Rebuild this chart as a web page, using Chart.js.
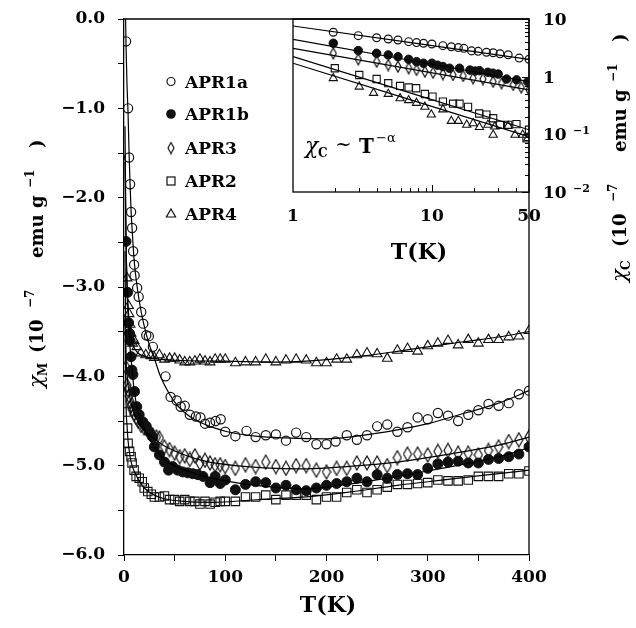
<!DOCTYPE html>
<html>
<head>
<meta charset="utf-8">
<script src="https://cdn.jsdelivr.net/npm/chart.js@4.4.1/dist/chart.umd.min.js"></script>
<style>
  html, body { margin: 0; padding: 0; background: #fff; }
  #wrap { position: relative; width: 636px; height: 628px; }
  #wrap canvas { position: absolute; left: 0; top: 0; }
</style>
</head>
<body>
<div id="wrap">
  <canvas id="mainChart" width="636" height="628"></canvas>
  <canvas id="insetChart" width="636" height="628"></canvas>
</div>
<script>
// ---- main panel: chi_M (1e-7 emu/g) against T (K) ----
const seriesNames = ['APR1a', 'APR1b', 'APR3', 'APR2', 'APR4'];

const tempAPR1a = [2, 4, 5, 6, 7, 8, 9, 10, 10.5, 13,
  14.5, 17, 19, 22, 24.5, 28.5, 41, 46, 52, 56,
  60, 65, 71, 75.5, 80, 85, 90.5, 95.5, 100, 110,
  121, 130, 140, 150, 160, 170, 180, 190, 200, 209,
  220, 230, 240, 250, 260, 270, 280, 290, 300, 310,
  320, 330, 340, 350, 360, 370, 380, 390, 400];
const chiAPR1a = [-0.25, -1.0, -1.55, -1.85, -2.16, -2.34, -2.6, -2.75, -2.87, -3.01,
  -3.11, -3.28, -3.41, -3.54, -3.55, -3.67, -4.0, -4.23, -4.27, -4.34,
  -4.33, -4.43, -4.45, -4.46, -4.53, -4.52, -4.5, -4.48, -4.62, -4.67,
  -4.61, -4.68, -4.66, -4.65, -4.72, -4.63, -4.68, -4.76, -4.76, -4.73,
  -4.66, -4.71, -4.66, -4.56, -4.54, -4.62, -4.57, -4.46, -4.48, -4.41,
  -4.44, -4.5, -4.43, -4.38, -4.31, -4.33, -4.3, -4.2, -4.16];

const tempAPR1b = [2, 3.5, 4.5, 5.5, 6, 7, 7.8, 8.8, 10.4, 12.6,
  15, 18.6, 22, 25, 28.5, 30, 35, 40, 44, 48,
  53, 58, 63, 68, 73, 78, 85, 90, 95, 100,
  110, 120, 130, 140, 150, 160, 170, 180, 190, 200,
  210, 220, 230, 240, 250, 260, 270, 280, 290, 300,
  310, 320, 330, 340, 350, 360, 370, 380, 390, 400];
const chiAPR1b = [-2.49, -3.06, -3.4, -3.52, -3.6, -3.78, -3.93, -3.98, -4.17, -4.34,
  -4.43, -4.51, -4.56, -4.62, -4.68, -4.79, -4.88, -4.96, -5.05, -5.01,
  -5.05, -5.07, -5.08, -5.09, -5.1, -5.12, -5.19, -5.12, -5.2, -5.16,
  -5.27, -5.21, -5.18, -5.19, -5.25, -5.22, -5.27, -5.28, -5.25, -5.22,
  -5.2, -5.18, -5.14, -5.18, -5.1, -5.14, -5.1, -5.09, -5.1, -5.03,
  -4.98, -4.96, -4.95, -4.97, -4.97, -4.93, -4.92, -4.9, -4.87, -4.79];

const tempAPR3 = [2, 3, 4, 5, 6, 7, 8, 10, 12, 14,
  17, 20, 24, 28, 32, 35, 40, 45, 50, 55,
  60, 65, 70, 75, 80, 85, 90, 95, 100, 110,
  120, 130, 140, 150, 160, 170, 180, 190, 200, 210,
  220, 230, 240, 250, 260, 270, 280, 290, 300, 310,
  320, 330, 340, 350, 360, 370, 380, 390, 400];
const chiAPR3 = [-3.9, -4.1, -4.15, -4.22, -4.28, -4.33, -4.37, -4.42, -4.46, -4.5,
  -4.55, -4.58, -4.62, -4.66, -4.68, -4.69, -4.79, -4.82, -4.86, -4.9,
  -4.89, -4.93, -4.89, -4.97, -4.94, -4.97, -4.99, -4.99, -5.01, -5.03,
  -4.99, -5.01, -4.96, -5.01, -5.03, -5.0, -5.0, -5.05, -5.07, -5.03,
  -5.03, -4.97, -4.97, -4.97, -5.0, -4.91, -4.87, -4.87, -4.88, -4.84,
  -4.83, -4.86, -4.86, -4.88, -4.83, -4.79, -4.73, -4.71, -4.68];

const tempAPR2 = [2, 3.5, 4, 5.5, 7, 8, 10, 12, 15, 18,
  20, 23.5, 27, 30, 35, 40, 45, 50, 55, 60,
  65, 70, 75, 80, 85, 90, 95, 100, 110, 120,
  130, 140, 150, 160, 170, 180, 190, 200, 210, 220,
  230, 240, 250, 260, 270, 280, 290, 300, 310, 320,
  330, 340, 350, 360, 370, 380, 390, 400];
const chiAPR2 = [-4.4, -4.58, -4.75, -4.84, -4.9, -4.97, -5.05, -5.12, -5.14, -5.18,
  -5.25, -5.29, -5.32, -5.35, -5.35, -5.34, -5.38, -5.38, -5.4, -5.38,
  -5.4, -5.4, -5.43, -5.4, -5.43, -5.41, -5.4, -5.4, -5.4, -5.35,
  -5.35, -5.33, -5.38, -5.33, -5.33, -5.33, -5.38, -5.35, -5.35, -5.3,
  -5.27, -5.3, -5.27, -5.24, -5.21, -5.21, -5.2, -5.19, -5.16, -5.17,
  -5.17, -5.16, -5.12, -5.12, -5.12, -5.09, -5.09, -5.06];

const tempAPR4 = [3, 4.5, 5, 6, 7, 8.5, 10, 12.7, 16.5, 21.5,
  26.5, 30, 35, 40, 45, 50, 55, 60, 65, 70,
  75, 80, 85, 90, 95, 100, 110, 120, 130, 140,
  150, 160, 170, 180, 190, 200, 210, 220, 230, 240,
  250, 260, 270, 280, 290, 300, 310, 320, 330, 340,
  350, 360, 370, 380, 390, 400];
const chiAPR4 = [-2.9, -3.21, -3.3, -3.42, -3.52, -3.63, -3.6, -3.67, -3.74, -3.76,
  -3.77, -3.79, -3.76, -3.81, -3.8, -3.8, -3.82, -3.84, -3.84, -3.83,
  -3.81, -3.83, -3.84, -3.81, -3.81, -3.81, -3.85, -3.84, -3.84, -3.81,
  -3.84, -3.82, -3.81, -3.82, -3.85, -3.85, -3.81, -3.81, -3.76, -3.74,
  -3.75, -3.8, -3.71, -3.69, -3.72, -3.66, -3.63, -3.6, -3.65, -3.59,
  -3.63, -3.59, -3.59, -3.56, -3.55, -3.49];

// fitted curves
const fitTempAPR1a = [1, 1.6, 2, 3, 4, 5, 6, 7, 8, 10, 13, 17, 22, 26, 30, 36, 45, 53, 65, 76,
  90, 102, 130, 160, 200, 230, 270, 300, 337, 370, 400];
const fitChiAPR1a = [0.8, 0.0, -0.3, -0.75, -1.05, -1.5, -1.85, -2.15, -2.35, -2.7, -3.0, -3.28, -3.53, -3.68, -3.8, -4.0, -4.2, -4.33, -4.45, -4.52,
  -4.58, -4.62, -4.67, -4.69, -4.7, -4.67, -4.6, -4.53, -4.41, -4.3, -4.16];
const fitTempAPR1b = [1, 2, 3, 4, 5, 6, 7, 8, 10, 13, 16, 20, 25, 30, 40, 50, 60, 80, 100, 130,
  180, 220, 270, 300, 337, 370, 400];
const fitChiAPR1b = [-1.2, -2.45, -3.0, -3.3, -3.5, -3.68, -3.8, -3.93, -4.15, -4.35, -4.47, -4.58, -4.7, -4.79, -4.93, -5.0, -5.05, -5.12, -5.17, -5.22,
  -5.26, -5.21, -5.12, -5.06, -4.98, -4.9, -4.8];
const fitTempAPR3 = [1, 2, 3, 4, 6, 8, 10, 15, 20, 30, 40, 60, 80, 110, 150, 180, 220, 270, 300, 337, 370, 400];
const fitChiAPR3 = [-2.6, -3.75, -3.97, -4.1, -4.25, -4.35, -4.42, -4.53, -4.6, -4.7, -4.78, -4.88, -4.95, -5.0, -5.03, -5.035, -5.01, -4.96, -4.91, -4.84, -4.77, -4.68];
const fitTempAPR2 = [1, 2, 3, 4, 6, 8, 10, 15, 20, 30, 40, 60, 90, 120, 150, 180, 220, 270, 300, 337, 370, 400];
const fitChiAPR2 = [-3.3, -4.3, -4.55, -4.72, -4.9, -5.0, -5.06, -5.17, -5.25, -5.33, -5.37, -5.4, -5.41, -5.39, -5.37, -5.35, -5.3, -5.22, -5.18, -5.13, -5.09, -5.05];
const fitTempAPR4 = [1, 2, 3, 4, 5, 6, 8, 10, 15, 25, 50, 100, 150, 180, 230, 270, 300, 337, 370, 400];
const fitChiAPR4 = [-1.6, -2.5, -2.95, -3.2, -3.38, -3.5, -3.62, -3.68, -3.75, -3.79, -3.82, -3.83, -3.84, -3.83, -3.78, -3.72, -3.67, -3.61, -3.56, -3.5];

// ---- inset: chi_C (log) against T (log) ----
const insetTempAPR1a = [1.95, 2.95, 4, 4.85, 5.7, 6.8, 7.75, 8.7, 10, 12, 13.8, 15.5, 17, 19.3, 21.5, 24.7, 27.6, 30.9, 35.4, 42.5, 50];
const insetChiAPR1a = [5.9, 5.14, 4.74, 4.5, 4.33, 4.05, 3.9, 3.8, 3.69, 3.45, 3.3, 3.19, 3.1, 2.8, 2.75, 2.65, 2.6, 2.5, 2.4, 2.1, 2.0];
const insetTempAPR1b = [1.95, 2.95, 4, 4.85, 5.7, 6.8, 7.75, 8.7, 10, 11, 12, 13.4, 15.8, 18.8, 20.5, 22, 25.3, 27.5, 30, 34.5, 40.7, 49];
const insetChiAPR1b = [3.8, 2.83, 2.54, 2.38, 2.22, 2.0, 1.82, 1.71, 1.71, 1.58, 1.5, 1.4, 1.4, 1.3, 1.25, 1.27, 1.19, 1.15, 1.11, 0.91, 0.88, 0.82];
const insetTempAPR3 = [1.95, 2.95, 4, 4.85, 5.7, 6.8, 7.75, 8.9, 10.2, 12, 14.2, 16.8, 19.8, 23.3, 27.6, 31.7, 38.5, 44, 50];
const insetChiAPR3 = [2.54, 2.0, 1.82, 1.59, 1.49, 1.4, 1.31, 1.22, 1.17, 1.11, 1.07, 1.03, 0.94, 0.91, 0.82, 0.77, 0.72, 0.65, 0.59];
const insetTempAPR2 = [2, 3, 4, 4.85, 5.9, 6.8, 7.7, 8.9, 10.1, 12, 14.2, 15.8, 18.2, 21.9, 24.7, 27.6, 30.9, 35.4, 40.6, 48, 50];
const insetChiAPR2 = [1.4, 1.07, 0.91, 0.77, 0.69, 0.65, 0.63, 0.5, 0.45, 0.37, 0.34, 0.34, 0.3, 0.23, 0.22, 0.19, 0.146, 0.146, 0.15, 0.085, 0.12];
const insetTempAPR4 = [1.95, 3, 3.8, 4.85, 5.9, 6.8, 7.75, 8.9, 9.9, 12, 13.8, 15.5, 17.8, 19.8, 22, 25.3, 27.6, 28.3, 35.4, 39.7, 45, 49];
const insetChiAPR4 = [0.94, 0.67, 0.52, 0.5, 0.42, 0.39, 0.35, 0.3, 0.22, 0.27, 0.17, 0.17, 0.146, 0.155, 0.133, 0.146, 0.098, 0.136, 0.14, 0.098, 0.098, 0.085];

// power-law lines of the inset (end points at T = 1 and T = 50)
const insetFitTemp = [1, 50];
const insetFitAPR1a = [7.57, 2.0];
const insetFitAPR1b = [4.45, 0.82];
const insetFitAPR3 = [3.1, 0.59];
const insetFitAPR2 = [2.22, 0.12];
const insetFitAPR4 = [1.71, 0.091];

// tick positions and labels
const insetTempMinorTicks = [2, 3, 4, 5, 6, 7, 8, 9, 20, 30, 40];
const insetTempLabels = [1, 10, 50];
const insetChiDecades = [10, 1, 0.1, 0.01];
const insetChiLabels = [['10', ''], ['1', ''], ['10', '\u22121'], ['10', '\u22122']];

const INK = '#111';
const FAMILY = "'DejaVu Serif', serif";

function font(size, weight, style) {
    return [style, weight, size + 'px', FAMILY].filter(Boolean).join(' ');
}

function pts(xs, ys) {
    return xs.map((x, i) => ({ x: x, y: ys[i] }));
}

// tall open diamond used as the APR3 marker
function diamondMarker(w, h) {
    const c = document.createElement('canvas');
    c.width = w;
    c.height = h;
    const g = c.getContext('2d');
    g.strokeStyle = INK;
    g.lineWidth = 1.2;
    g.beginPath();
    g.moveTo(w / 2, 1);
    g.lineTo(w - 1, h / 2);
    g.lineTo(w / 2, h - 1);
    g.lineTo(1, h / 2);
    g.closePath();
    g.stroke();
    return c;
}

const bigDiamond = diamondMarker(10, 16);
const smallDiamond = diamondMarker(8, 13);

function markerStyle(name, small) {
    const k = small ? 0.85 : 1;
    const open = 'rgba(0,0,0,0)';
    switch (name) {
        case 'APR1a': return { pointStyle: 'circle', pointRadius: 4.6 * k, pointBackgroundColor: open, pointBorderColor: INK, pointBorderWidth: 1.2 };
        case 'APR1b': return { pointStyle: 'circle', pointRadius: 5 * k, pointBackgroundColor: INK, pointBorderColor: INK, pointBorderWidth: 1 };
        case 'APR3': return { pointStyle: small ? smallDiamond : bigDiamond, pointRadius: 6, pointBackgroundColor: open, pointBorderColor: INK };
        case 'APR2': return { pointStyle: 'rect', pointRadius: 6 * k, pointBackgroundColor: open, pointBorderColor: INK, pointBorderWidth: 1.1 };
        case 'APR4': return { pointStyle: 'triangle', pointRadius: 5.6 * k, pointBackgroundColor: open, pointBorderColor: INK, pointBorderWidth: 1.1 };
    }
}

function scatterSet(name, xs, ys, small) {
    return Object.assign({ label: name, data: pts(xs, ys), showLine: false }, markerStyle(name, small));
}

function fitSet(xs, ys) {
    return {
        label: 'fit',
        data: pts(xs, ys),
        showLine: true,
        pointRadius: 0,
        borderColor: '#000',
        borderWidth: 1.2,
        cubicInterpolationMode: 'monotone',
        fill: false
    };
}

// draws pieces of text at fixed offsets along a (possibly rotated) baseline
function drawRuns(ctx, ox, oy, angle, runs) {
    ctx.save();
    ctx.translate(ox, oy);
    ctx.rotate(angle);
    ctx.fillStyle = '#000';
    ctx.textAlign = 'left';
    ctx.textBaseline = 'alphabetic';
    runs.forEach(r => {
        ctx.font = r.font;
        ctx.fillText(r.text, r.at, r.dy || 0);
    });
    ctx.restore();
}

function chiTitleRuns(sub) {
    return [
        { text: '\u03c7', font: font(21, '', 'italic'), at: 0 },
        { text: sub, font: font(12, 'bold'), at: 12, dy: 4 },
        { text: '(10', font: font(18, 'bold'), at: 35 },
        { text: '\u22127', font: font(12, 'bold'), at: 80, dy: -9 },
        { text: 'emu', font: font(18, 'bold'), at: 130 },
        { text: 'g', font: font(18, 'bold'), at: 180 },
        { text: '\u22121', font: font(12, 'bold'), at: 200, dy: -9 },
        { text: ')', font: font(18, 'bold'), at: 240 }
    ];
}

function drawLegendMarker(ctx, name, x, y) {
    ctx.save();
    ctx.strokeStyle = INK;
    ctx.fillStyle = INK;
    ctx.lineWidth = 1.2;
    ctx.beginPath();
    if (name === 'APR1a') {
        ctx.arc(x, y, 4, 0, Math.PI * 2);
        ctx.stroke();
    } else if (name === 'APR1b') {
        ctx.arc(x, y, 4.8, 0, Math.PI * 2);
        ctx.fill();
    } else if (name === 'APR3') {
        ctx.drawImage(smallDiamond, x - smallDiamond.width / 2, y - smallDiamond.height / 2);
    } else if (name === 'APR2') {
        ctx.strokeRect(x - 4, y - 4, 8, 8);
    } else {
        ctx.moveTo(x, y - 5);
        ctx.lineTo(x + 4.6, y + 3);
        ctx.lineTo(x - 4.6, y + 3);
        ctx.closePath();
        ctx.stroke();
    }
    ctx.restore();
}

const mainDecor = {
    id: 'mainDecor',
    afterDraw(chart) {
        const { ctx, chartArea: a } = chart;
        ctx.save();
        ctx.strokeStyle = '#000';
        ctx.lineWidth = 1.3;
        ctx.beginPath();
        ctx.moveTo(a.left, a.top);
        ctx.lineTo(a.right, a.top);
        ctx.lineTo(a.right, a.bottom);
        ctx.stroke();
        ctx.restore();

        // legend
        const baselines = [87.5, 120, 154, 187, 220];
        seriesNames.forEach((name, i) => {
            drawLegendMarker(ctx, name, 171, baselines[i] - 6);
            drawRuns(ctx, 185, baselines[i], 0, [{ text: name, font: font(17, 'bold'), at: 0 }]);
        });

        // axis titles
        ctx.save();
        ctx.font = font(22, 'bold');
        ctx.fillStyle = '#000';
        ctx.textAlign = 'center';
        ctx.fillText('T(K)', 328, 612);
        ctx.restore();
        drawRuns(ctx, 43, 388, -Math.PI / 2, chiTitleRuns('M'));
    }
};

const insetDecor = {
    id: 'insetDecor',
    beforeDatasetsDraw(chart) {
        const { ctx, chartArea: a, scales: { x, y } } = chart;
        ctx.save();
        ctx.strokeStyle = '#000';
        ctx.lineWidth = 1.3;
        ctx.strokeRect(a.left, a.top, a.right - a.left, a.bottom - a.top);
        ctx.lineWidth = 1;
        ctx.beginPath();
        insetTempMinorTicks.concat([10]).forEach(t => {
            const px = Math.round(x.getPixelForValue(t)) + 0.5;
            ctx.moveTo(px, a.bottom);
            ctx.lineTo(px, a.bottom - (t === 10 ? 7 : 4));
        });
        insetChiDecades.forEach(d => {
            const py = Math.round(y.getPixelForValue(d)) + 0.5;
            ctx.moveTo(a.right, py);
            ctx.lineTo(a.right - 7, py);
            if (d < 10) {
                for (let m = 2; m <= 9; m++) {
                    const q = Math.round(y.getPixelForValue(d * m)) + 0.5;
                    ctx.moveTo(a.right, q);
                    ctx.lineTo(a.right - 4, q);
                }
            }
        });
        ctx.stroke();
        ctx.restore();
    },
    afterDraw(chart) {
        const { ctx, scales: { x, y } } = chart;
        ctx.save();
        ctx.fillStyle = '#000';
        ctx.font = font(17, 'bold');
        ctx.textAlign = 'center';
        insetTempLabels.forEach(t => ctx.fillText(String(t), x.getPixelForValue(t), 221));
        ctx.restore();

        insetChiDecades.forEach((d, i) => {
            const py = y.getPixelForValue(d) + 6;
            const [base, sup] = insetChiLabels[i];
            const runs = [{ text: base, font: font(17, 'bold'), at: 0 }];
            if (sup) runs.push({ text: sup, font: font(11, 'bold'), at: 30, dy: -6 });
            drawRuns(ctx, 543, py, 0, runs);
        });

        ctx.save();
        ctx.font = font(22, 'bold');
        ctx.fillStyle = '#000';
        ctx.textAlign = 'center';
        ctx.fillText('T(K)', 419, 259);
        ctx.restore();

        drawRuns(ctx, 305, 153, 0, [
            { text: '\u03c7', font: font(22, '', 'italic'), at: 0 },
            { text: 'C', font: font(12, 'bold'), at: 13, dy: 4 },
            { text: '~', font: font(20, ''), at: 30, dy: -2 },
            { text: 'T', font: font(20, 'bold'), at: 54 },
            { text: '\u2212\u03b1', font: font(13, ''), at: 71, dy: -11 }
        ]);

        drawRuns(ctx, 626, 282, -Math.PI / 2, chiTitleRuns('C'));
    }
};

const tickFont = { family: FAMILY, size: 17, weight: 'bold' };

function fmtChi(v) {
    if (v === 0) return '0.0';
    return (v < 0 ? '\u2212' : '') + Math.abs(v).toFixed(1);
}

// keep the plot box fixed: no extra room for half tick labels
function fixBox(size, horizontal) {
    return s => {
        if (horizontal) s.height = size; else s.width = size;
        s.paddingTop = 0;
        s.paddingBottom = 0;
        s.paddingLeft = 0;
        s.paddingRight = 0;
    };
}

new Chart(document.getElementById('mainChart'), {
    type: 'scatter',
    data: {
        datasets: [
            fitSet(fitTempAPR1a, fitChiAPR1a),
            fitSet(fitTempAPR1b, fitChiAPR1b),
            fitSet(fitTempAPR3, fitChiAPR3),
            fitSet(fitTempAPR2, fitChiAPR2),
            fitSet(fitTempAPR4, fitChiAPR4),
            scatterSet('APR1a', tempAPR1a, chiAPR1a),
            scatterSet('APR1b', tempAPR1b, chiAPR1b),
            scatterSet('APR3', tempAPR3, chiAPR3),
            scatterSet('APR2', tempAPR2, chiAPR2),
            scatterSet('APR4', tempAPR4, chiAPR4)
        ]
    },
    options: {
        responsive: false,
        devicePixelRatio: 1,
        animation: false,
        events: [],
        layout: { autoPadding: false, padding: { left: 0, top: 19, right: 107, bottom: 0 } },
        plugins: { legend: { display: false }, tooltip: { enabled: false } },
        scales: {
            x: {
                type: 'linear',
                min: 0,
                max: 400,
                afterFit: fixBox(73, true),
                ticks: {
                    stepSize: 50,
                    autoSkip: false,
                    maxRotation: 0,
                    padding: 6,
                    color: '#000',
                    font: tickFont,
                    callback: v => (v % 100 === 0 ? String(v) : '')
                },
                grid: { drawOnChartArea: false, tickLength: 6, color: '#000', lineWidth: 1 },
                border: { color: '#000', width: 1.3 }
            },
            y: {
                type: 'linear',
                min: -6,
                max: 0,
                afterFit: fixBox(124, false),
                ticks: {
                    stepSize: 0.5,
                    autoSkip: false,
                    padding: 13,
                    color: '#000',
                    font: tickFont,
                    callback: v => (Number.isInteger(v) ? fmtChi(v) : '')
                },
                grid: { drawOnChartArea: false, tickLength: 6, color: '#000', lineWidth: 1 },
                border: { color: '#000', width: 1.3 }
            }
        }
    },
    plugins: [mainDecor]
});

new Chart(document.getElementById('insetChart'), {
    type: 'scatter',
    data: {
        datasets: [
            fitSet(insetFitTemp, insetFitAPR1a),
            fitSet(insetFitTemp, insetFitAPR1b),
            fitSet(insetFitTemp, insetFitAPR3),
            fitSet(insetFitTemp, insetFitAPR2),
            fitSet(insetFitTemp, insetFitAPR4),
            scatterSet('APR1a', insetTempAPR1a, insetChiAPR1a, true),
            scatterSet('APR1b', insetTempAPR1b, insetChiAPR1b, true),
            scatterSet('APR3', insetTempAPR3, insetChiAPR3, true),
            scatterSet('APR2', insetTempAPR2, insetChiAPR2, true),
            scatterSet('APR4', insetTempAPR4, insetChiAPR4, true)
        ]
    },
    options: {
        responsive: false,
        devicePixelRatio: 1,
        animation: false,
        events: [],
        layout: { autoPadding: false, padding: { left: 293, top: 19, right: 107, bottom: 436 } },
        plugins: { legend: { display: false }, tooltip: { enabled: false } },
        scales: {
            x: { type: 'logarithmic', min: 1, max: 50, display: false },
            y: { type: 'logarithmic', min: 0.01, max: 10, display: false }
        }
    },
    plugins: [insetDecor]
});
</script>
</body>
</html>
